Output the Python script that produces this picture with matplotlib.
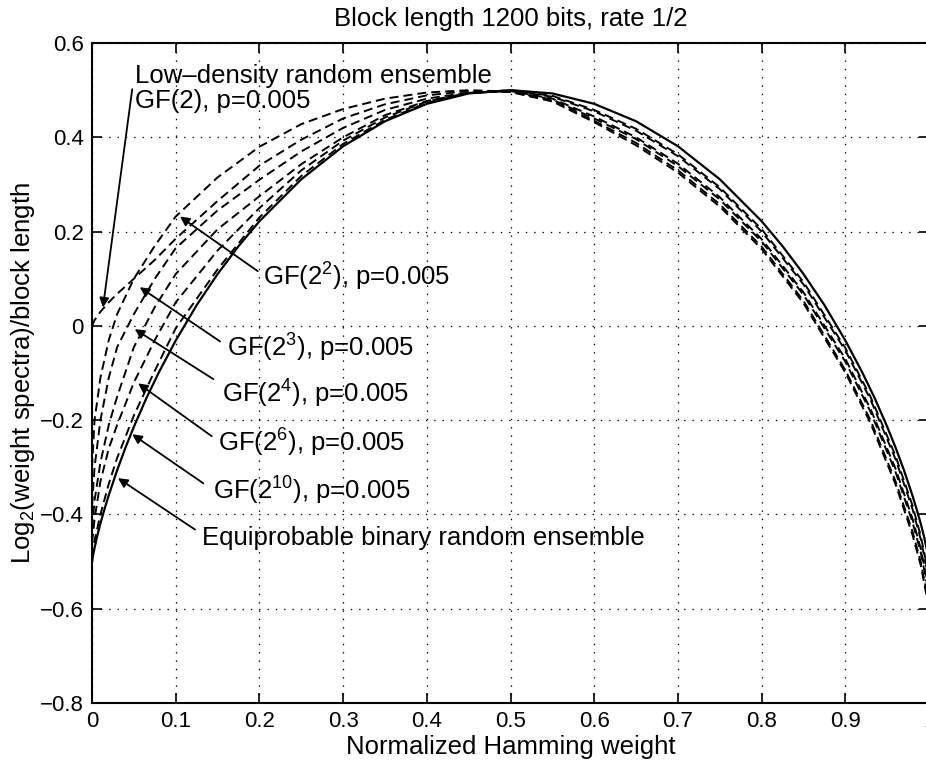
import matplotlib
matplotlib.use('Agg')
import matplotlib.pyplot as plt

plt.rcParams['font.family'] = ['Liberation Sans', 'DejaVu Sans']
plt.rcParams['mathtext.fontset'] = 'custom'
plt.rcParams['mathtext.rm'] = 'Liberation Sans'
plt.rcParams['mathtext.it'] = 'Liberation Sans:italic'
plt.rcParams['lines.scale_dashes'] = False

# equiprobable binary random ensemble (solid curve)
w_solid = [0, 0.001, 0.003, 0.006, 0.01, 0.015, 0.02, 0.03, 0.04, 0.05, 0.065, 0.08, 0.1,
           0.125, 0.15, 0.175, 0.2, 0.25, 0.3, 0.35, 0.4, 0.45, 0.5, 0.55, 0.6, 0.65, 0.7,
           0.75, 0.8, 0.825, 0.85, 0.875, 0.9, 0.92, 0.935, 0.95, 0.96, 0.97, 0.98, 0.985,
           0.99, 0.994, 0.997, 1.0]
equiprobable = [-0.5, -0.489, -0.471, -0.447, -0.419, -0.388, -0.359, -0.306, -0.258, -0.214,
                -0.153, -0.098, -0.031, 0.044, 0.110, 0.169, 0.222, 0.311, 0.381, 0.434, 0.471,
                0.493, 0.5, 0.493, 0.471, 0.434, 0.381, 0.311, 0.222, 0.169, 0.110, 0.044,
                -0.031, -0.098, -0.153, -0.214, -0.258, -0.306, -0.359, -0.388, -0.419, -0.447,
                -0.471, -0.5]

# low-density ensembles (dashed curves)
w_ld = [0, 0.003, 0.01, 0.02, 0.03, 0.05, 0.075, 0.1, 0.15, 0.2, 0.25, 0.3, 0.35, 0.4, 0.45,
        0.5, 0.55, 0.6, 0.65, 0.7, 0.75, 0.8, 0.85, 0.9, 0.93, 0.96, 0.98, 0.99, 1.0]
gf2 = [0.0, 0.012, 0.03, 0.05, 0.068, 0.10, 0.14, 0.185, 0.265, 0.340, 0.395, 0.440, 0.470,
       0.489, 0.498, 0.496, 0.476, 0.432, 0.383, 0.325, 0.253, 0.163, 0.048, -0.099, -0.206,
       -0.336, -0.442, -0.507, -0.60]
gf4 = [-0.30, -0.20, -0.11, -0.03, 0.025, 0.10, 0.17, 0.232, 0.315, 0.380, 0.428, 0.460, 0.482,
       0.495, 0.500, 0.497, 0.478, 0.435, 0.388, 0.330, 0.258, 0.168, 0.053, -0.094, -0.200,
       -0.330, -0.435, -0.500, -0.59]
gf8 = [-0.38, -0.30, -0.20, -0.11, -0.045, 0.025, 0.10, 0.165, 0.245, 0.31, 0.37, 0.42, 0.458,
       0.482, 0.495, 0.497, 0.480, 0.440, 0.396, 0.339, 0.268, 0.179, 0.066, -0.076, -0.182,
       -0.310, -0.415, -0.480, -0.57]
gf16 = [-0.43, -0.37, -0.29, -0.21, -0.15, -0.045, 0.04, 0.11, 0.205, 0.275, 0.343, 0.400, 0.447,
        0.477, 0.494, 0.498, 0.482, 0.444, 0.400, 0.344, 0.273, 0.184, 0.071, -0.070, -0.176,
        -0.303, -0.408, -0.472, -0.56]
gf64 = [-0.46, -0.41, -0.33, -0.26, -0.21, -0.12, -0.03, 0.05, 0.16, 0.25, 0.33, 0.393, 0.442,
        0.476, 0.494, 0.499, 0.486, 0.455, 0.414, 0.360, 0.290, 0.200, 0.088, -0.052, -0.156,
        -0.283, -0.387, -0.452, -0.54]
gf1024 = [-0.49, -0.455, -0.40, -0.335, -0.28, -0.19, -0.095, -0.005, 0.12, 0.23, 0.318, 0.386,
          0.437, 0.473, 0.494, 0.500, 0.488, 0.458, 0.418, 0.364, 0.294, 0.205, 0.093, -0.047,
          -0.150, -0.276, -0.380, -0.445, -0.53]

fig = plt.figure(figsize=(9.26, 7.64), dpi=100)
ax = fig.add_axes([0.0994, 0.0798, 0.9039, 0.8639])

for ys in [gf2, gf4, gf8, gf16, gf64, gf1024]:
    ax.plot(w_ld, ys, color='black', lw=1.4, dashes=(6.5, 3.6))
ax.plot(w_solid, equiprobable, color='black', lw=1.6)

ax.set_xlim(0, 1)
ax.set_ylim(-0.8, 0.6)
ax.set_xticks([0, 0.1, 0.2, 0.3, 0.4, 0.5, 0.6, 0.7, 0.8, 0.9, 1])
ax.set_xticklabels(['0', '0.1', '0.2', '0.3', '0.4', '0.5', '0.6', '0.7', '0.8', '0.9', '1'])
ax.set_yticks([-0.8, -0.6, -0.4, -0.2, 0, 0.2, 0.4, 0.6])
ax.set_yticklabels(['\u22120.8', '\u22120.6', '\u22120.4', '\u22120.2', '0', '0.2', '0.4', '0.6'])
ax.tick_params(direction='in', length=7, width=1.2, top=True, right=True,
               labelsize=16, pad=6)
for s in ax.spines.values():
    s.set_linewidth(1.5)
ax.grid(True, color='black', linestyle=(0, (1, 5)), lw=0.9)

ax.set_title('Block length 1200 bits, rate 1/2', fontsize=18.5, pad=12)
ax.set_xlabel('Normalized Hamming weight', fontsize=18.5, labelpad=2)
ax.set_ylabel('Log$_2$(weight spectra)/block length', fontsize=18.5, labelpad=2)

# annotations: (text, text pos, arrow tail, arrow tip)
notes = [
    ('Low\u2013density random ensemble\nGF(2), p=0.005', (0.051, 0.503), (0.048, 0.502), (0.013, 0.039)),
    ('GF(2$^{2}$), p=0.005', (0.204, 0.103), (0.198, 0.116), (0.105, 0.232)),
    ('GF(2$^{3}$), p=0.005', (0.161, -0.046), (0.153, -0.033), (0.057, 0.082)),
    ('GF(2$^{4}$), p=0.005', (0.155, -0.145), (0.145, -0.113), (0.051, -0.007)),
    ('GF(2$^{6}$), p=0.005', (0.151, -0.249), (0.143, -0.234), (0.055, -0.122)),
    ('GF(2$^{10}$), p=0.005', (0.145, -0.351), (0.133, -0.334), (0.048, -0.230)),
    ('Equiprobable binary random ensemble', (0.131, -0.451), (0.123, -0.432), (0.031, -0.323)),
]
for txt, tpos, tail, tip in notes:
    ax.text(tpos[0], tpos[1], txt, fontsize=18.5, ha='left', va='center', linespacing=1.05)
    ax.annotate('', xy=tip, xytext=tail,
                arrowprops=dict(arrowstyle='-|>', color='black', lw=1.3,
                                mutation_scale=14, shrinkA=0, shrinkB=0))

fig.savefig('out.png', dpi=100)
